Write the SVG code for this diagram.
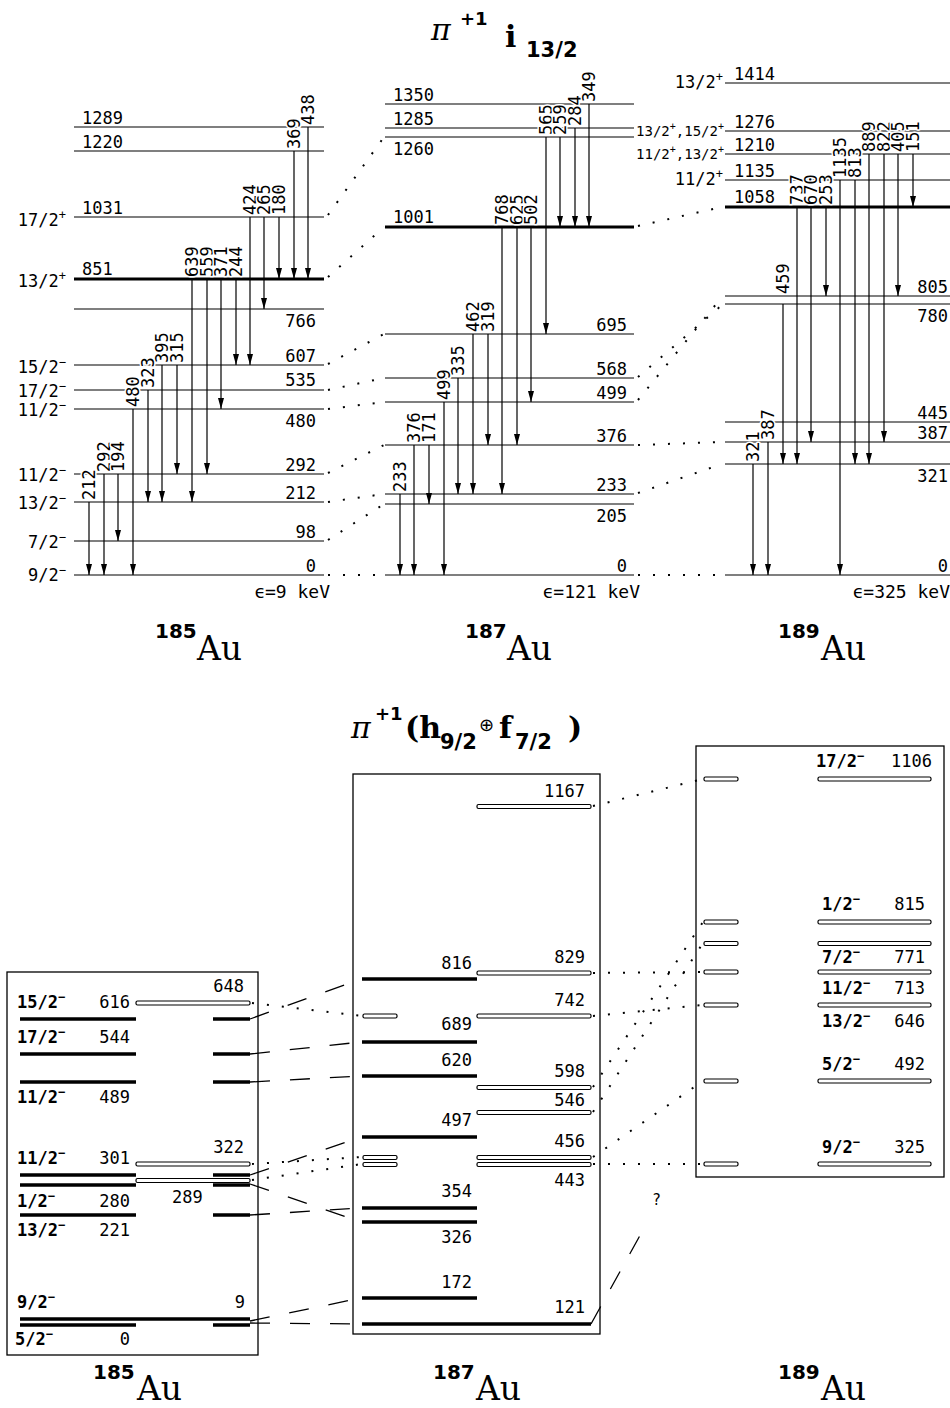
<svg xmlns="http://www.w3.org/2000/svg" width="950" height="1408" viewBox="0 0 950 1408">
<defs>
<marker id="ah" viewBox="0 0 11 6" refX="11" refY="3" markerWidth="11" markerHeight="6" markerUnits="userSpaceOnUse" orient="auto"><path d="M0,0 L11,3 L0,6 z" fill="#000"/></marker>
<style>
text{font-family:"DejaVu Sans Mono",monospace;font-size:17px;fill:#000}
.lv{stroke:#000;stroke-width:1.2}
.tk{stroke:#000;stroke-width:3}
.bk{stroke:#000;stroke-width:3.5}
.tr{stroke:#000;stroke-width:1.2;marker-end:url(#ah)}
.tl{paint-order:stroke;stroke:#fff;stroke-width:3px;stroke-linejoin:round}
.dot{stroke:#000;stroke-width:2;stroke-dasharray:2 13;fill:none}
.dash{stroke:#000;stroke-width:1.3;stroke-dasharray:20 20;fill:none}
.bar{fill:#fff;stroke:#000;stroke-width:1.2}
.box{fill:none;stroke:#000;stroke-width:1.3}
.e{text-anchor:end}
text.sm{font-size:14px}
.b{font-weight:bold}
text.eps{font-size:18px}
text.iso{font-family:"DejaVu Sans",sans-serif;font-weight:bold;font-size:20px}
text.au{font-family:"DejaVu Serif",serif;font-size:33px}
text.pi{font-family:"DejaVu Serif",serif;font-style:italic;font-size:30px}
text.sup1{font-family:"DejaVu Sans",sans-serif;font-weight:bold;font-size:18px}
text.big{font-family:"DejaVu Serif",serif;font-weight:bold;font-size:30px}
text.sub{font-family:"DejaVu Sans",sans-serif;font-weight:bold;font-size:21px}
text.op{font-family:"DejaVu Sans",sans-serif;font-size:18px}
</style>
</defs>

<!-- titles -->
<g id="title-top">
<text class="pi" x="431" y="40">π</text>
<text class="sup1" x="460" y="25">+1</text>
<text class="big" x="505" y="47">i</text>
<text class="sub" x="526" y="57">13/2</text>
</g>
<g id="title-bottom">
<text class="pi" x="351" y="738">π</text>
<text class="sup1" x="375" y="720">+1</text>
<text class="big" x="405" y="738">(h</text>
<text class="sub" x="440" y="749">9/2</text>
<text class="op" x="479" y="731">⊕</text>
<text class="big" x="499" y="738">f</text>
<text class="sub" x="515" y="749">7/2</text>
<text class="big" x="568" y="738">)</text>
</g>

<!-- isotope labels -->
<g id="iso-top-185"><text class="iso" x="155" y="638">185</text><text class="au" x="197" y="660">Au</text></g>
<g id="iso-top-187"><text class="iso" x="465" y="638">187</text><text class="au" x="507" y="660">Au</text></g>
<g id="iso-top-189"><text class="iso" x="778" y="638">189</text><text class="au" x="821" y="660">Au</text></g>
<g id="iso-bot-185"><text class="iso" x="93" y="1379">185</text><text class="au" x="137" y="1400">Au</text></g>
<g id="iso-bot-187"><text class="iso" x="433" y="1379">187</text><text class="au" x="476" y="1400">Au</text></g>
<g id="iso-bot-189"><text class="iso" x="778" y="1379">189</text><text class="au" x="821" y="1400">Au</text></g>

<!-- ===== TOP: 185Au levels ===== -->
<g id="t185-1289"><line class="lv" x1="74" y1="127" x2="324" y2="127"/><text x="82" y="124">1289</text></g>
<g id="t185-1220"><line class="lv" x1="74" y1="151" x2="324" y2="151"/><text x="82" y="148">1220</text></g>
<g id="t185-1031"><line class="lv" x1="74" y1="217" x2="324" y2="217"/><text x="82" y="214">1031</text><text class="e" x="66" y="226">17/2<tspan font-size="12" dy="-7">+</tspan></text></g>
<g id="t185-851"><line class="tk" x1="74" y1="279" x2="324" y2="279"/><text x="82" y="275">851</text><text class="e" x="66" y="287">13/2<tspan font-size="12" dy="-7">+</tspan></text></g>
<g id="t185-766"><line class="lv" x1="74" y1="309" x2="324" y2="309"/><text class="e" x="316" y="327">766</text></g>
<g id="t185-607"><line class="lv" x1="74" y1="365" x2="324" y2="365"/><text class="e" x="316" y="362">607</text><text class="e" x="66" y="373">15/2<tspan font-size="12" dy="-7">−</tspan></text></g>
<g id="t185-535"><line class="lv" x1="74" y1="390" x2="324" y2="390"/><text class="e" x="316" y="386">535</text><text class="e" x="66" y="397">17/2<tspan font-size="12" dy="-7">−</tspan></text></g>
<g id="t185-480"><line class="lv" x1="74" y1="409" x2="324" y2="409"/><text class="e" x="316" y="427">480</text><text class="e" x="66" y="416">11/2<tspan font-size="12" dy="-7">−</tspan></text></g>
<g id="t185-292"><line class="lv" x1="74" y1="474" x2="324" y2="474"/><text class="e" x="316" y="471">292</text><text class="e" x="66" y="481">11/2<tspan font-size="12" dy="-7">−</tspan></text></g>
<g id="t185-212"><line class="lv" x1="74" y1="502" x2="324" y2="502"/><text class="e" x="316" y="499">212</text><text class="e" x="66" y="509">13/2<tspan font-size="12" dy="-7">−</tspan></text></g>
<g id="t185-98"><line class="lv" x1="74" y1="541" x2="324" y2="541"/><text class="e" x="316" y="538">98</text><text class="e" x="66" y="548">7/2<tspan font-size="12" dy="-7">−</tspan></text></g>
<g id="t185-0"><line class="lv" x1="74" y1="575" x2="324" y2="575"/><text class="e" x="316" y="572">0</text><text class="e" x="66" y="581">9/2<tspan font-size="12" dy="-7">−</tspan></text><text class="e eps" x="330" y="598">ϵ=9 keV</text></g>

<!-- ===== TOP: 187Au levels ===== -->
<g id="t187-1350"><line class="lv" x1="385" y1="104" x2="634" y2="104"/><text x="393" y="101">1350</text></g>
<g id="t187-1285"><line class="lv" x1="385" y1="128" x2="634" y2="128"/><text x="393" y="125">1285</text></g>
<g id="t187-1260"><line class="lv" x1="385" y1="137" x2="634" y2="137"/><text x="393" y="155">1260</text></g>
<g id="t187-1001"><line class="tk" x1="385" y1="227" x2="634" y2="227"/><text x="393" y="223">1001</text></g>
<g id="t187-695"><line class="lv" x1="385" y1="334" x2="634" y2="334"/><text class="e" x="627" y="331">695</text></g>
<g id="t187-568"><line class="lv" x1="385" y1="378" x2="634" y2="378"/><text class="e" x="627" y="375">568</text></g>
<g id="t187-499"><line class="lv" x1="385" y1="402" x2="634" y2="402"/><text class="e" x="627" y="399">499</text></g>
<g id="t187-376"><line class="lv" x1="385" y1="445" x2="634" y2="445"/><text class="e" x="627" y="442">376</text></g>
<g id="t187-233"><line class="lv" x1="385" y1="494" x2="634" y2="494"/><text class="e" x="627" y="491">233</text></g>
<g id="t187-205"><line class="lv" x1="385" y1="504" x2="634" y2="504"/><text class="e" x="627" y="522">205</text></g>
<g id="t187-0"><line class="lv" x1="385" y1="575" x2="634" y2="575"/><text class="e" x="627" y="572">0</text><text class="e eps" x="640" y="598">ϵ=121 keV</text></g>

<!-- ===== TOP: 189Au levels ===== -->
<g id="t189-1414"><line class="lv" x1="725" y1="83" x2="950" y2="83"/><text x="734" y="80">1414</text><text class="e" x="723" y="88">13/2<tspan font-size="12" dy="-7">+</tspan></text></g>
<g id="t189-1276"><line class="lv" x1="725" y1="131" x2="950" y2="131"/><text x="734" y="128">1276</text><text class="e sm" x="724" y="136">13/2<tspan font-size="10" dy="-6">+</tspan><tspan dy="6">,15/2</tspan><tspan font-size="10" dy="-6">+</tspan></text></g>
<g id="t189-1210"><line class="lv" x1="725" y1="154" x2="950" y2="154"/><text x="734" y="151">1210</text><text class="e sm" x="724" y="159">11/2<tspan font-size="10" dy="-6">+</tspan><tspan dy="6">,13/2</tspan><tspan font-size="10" dy="-6">+</tspan></text></g>
<g id="t189-1135"><line class="lv" x1="725" y1="180" x2="950" y2="180"/><text x="734" y="177">1135</text><text class="e" x="723" y="185">11/2<tspan font-size="12" dy="-7">+</tspan></text></g>
<g id="t189-1058"><line class="tk" x1="725" y1="207" x2="950" y2="207"/><text x="734" y="203">1058</text></g>
<g id="t189-805"><line class="lv" x1="725" y1="296" x2="950" y2="296"/><text class="e" x="948" y="293">805</text></g>
<g id="t189-780"><line class="lv" x1="725" y1="304" x2="950" y2="304"/><text class="e" x="948" y="322">780</text></g>
<g id="t189-445"><line class="lv" x1="725" y1="422" x2="950" y2="422"/><text class="e" x="948" y="419">445</text></g>
<g id="t189-387"><line class="lv" x1="725" y1="442" x2="950" y2="442"/><text class="e" x="948" y="439">387</text></g>
<g id="t189-321"><line class="lv" x1="725" y1="464" x2="950" y2="464"/><text class="e" x="948" y="482">321</text></g>
<g id="t189-0"><line class="lv" x1="725" y1="575" x2="950" y2="575"/><text class="e" x="948" y="572">0</text><text class="e eps" x="950" y="598">ϵ=325 keV</text></g>

<!-- ===== TOP transitions (connectors) ===== -->
<g id="transitions-top">
<line class="tr" x1="192" y1="279" x2="192" y2="502"/><text class="tl" transform="translate(198,277) rotate(-90)">639</text>
<line class="tr" x1="207" y1="279" x2="207" y2="474"/><text class="tl" transform="translate(213,277) rotate(-90)">559</text>
<line class="tr" x1="221" y1="279" x2="221" y2="409"/><text class="tl" transform="translate(227,277) rotate(-90)">371</text>
<line class="tr" x1="236" y1="279" x2="236" y2="365"/><text class="tl" transform="translate(242,277) rotate(-90)">244</text>
<line class="tr" x1="250" y1="217" x2="250" y2="365"/><text class="tl" transform="translate(256,215) rotate(-90)">424</text>
<line class="tr" x1="264" y1="217" x2="264" y2="309"/><text class="tl" transform="translate(270,215) rotate(-90)">265</text>
<line class="tr" x1="279" y1="217" x2="279" y2="279"/><text class="tl" transform="translate(285,215) rotate(-90)">180</text>
<line class="tr" x1="294" y1="151" x2="294" y2="279"/><text class="tl" transform="translate(300,149) rotate(-90)">369</text>
<line class="tr" x1="308" y1="127" x2="308" y2="279"/><text class="tl" transform="translate(314,125) rotate(-90)">438</text>
<line class="tr" x1="162" y1="365" x2="162" y2="502"/><text class="tl" transform="translate(168,363) rotate(-90)">395</text>
<line class="tr" x1="177" y1="365" x2="177" y2="474"/><text class="tl" transform="translate(183,363) rotate(-90)">315</text>
<line class="tr" x1="148" y1="390" x2="148" y2="502"/><text class="tl" transform="translate(154,388) rotate(-90)">323</text>
<line class="tr" x1="133" y1="409" x2="133" y2="575"/><text class="tl" transform="translate(139,407) rotate(-90)">480</text>
<line class="tr" x1="89" y1="502" x2="89" y2="575"/><text class="tl" transform="translate(95,500) rotate(-90)">212</text>
<line class="tr" x1="104" y1="474" x2="104" y2="575"/><text class="tl" transform="translate(110,472) rotate(-90)">292</text>
<line class="tr" x1="118" y1="474" x2="118" y2="541"/><text class="tl" transform="translate(124,472) rotate(-90)">194</text>
<line class="tr" x1="502" y1="227" x2="502" y2="494"/><text class="tl" transform="translate(508,225) rotate(-90)">768</text>
<line class="tr" x1="517" y1="227" x2="517" y2="445"/><text class="tl" transform="translate(523,225) rotate(-90)">625</text>
<line class="tr" x1="531" y1="227" x2="531" y2="402"/><text class="tl" transform="translate(537,225) rotate(-90)">502</text>
<line class="tr" x1="546" y1="137" x2="546" y2="334"/><text class="tl" transform="translate(552,135) rotate(-90)">565</text>
<line class="tr" x1="560" y1="137" x2="560" y2="227"/><text class="tl" transform="translate(566,135) rotate(-90)">259</text>
<line class="tr" x1="575" y1="128" x2="575" y2="227"/><text class="tl" transform="translate(581,126) rotate(-90)">284</text>
<line class="tr" x1="589" y1="104" x2="589" y2="227"/><text class="tl" transform="translate(595,102) rotate(-90)">349</text>
<line class="tr" x1="473" y1="334" x2="473" y2="494"/><text class="tl" transform="translate(479,332) rotate(-90)">462</text>
<line class="tr" x1="488" y1="334" x2="488" y2="445"/><text class="tl" transform="translate(494,332) rotate(-90)">319</text>
<line class="tr" x1="458" y1="378" x2="458" y2="494"/><text class="tl" transform="translate(464,376) rotate(-90)">335</text>
<line class="tr" x1="444" y1="402" x2="444" y2="575"/><text class="tl" transform="translate(450,400) rotate(-90)">499</text>
<line class="tr" x1="414" y1="445" x2="414" y2="575"/><text class="tl" transform="translate(420,443) rotate(-90)">376</text>
<line class="tr" x1="429" y1="445" x2="429" y2="504"/><text class="tl" transform="translate(435,443) rotate(-90)">171</text>
<line class="tr" x1="400" y1="494" x2="400" y2="575"/><text class="tl" transform="translate(406,492) rotate(-90)">233</text>
<line class="tr" x1="783" y1="304" x2="783" y2="464"/><text class="tl" transform="translate(789,294) rotate(-90)">459</text>
<line class="tr" x1="797" y1="207" x2="797" y2="464"/><text class="tl" transform="translate(803,205) rotate(-90)">737</text>
<line class="tr" x1="811" y1="207" x2="811" y2="442"/><text class="tl" transform="translate(817,205) rotate(-90)">670</text>
<line class="tr" x1="826" y1="207" x2="826" y2="296"/><text class="tl" transform="translate(832,205) rotate(-90)">253</text>
<line class="tr" x1="840" y1="180" x2="840" y2="575"/><text class="tl" transform="translate(846,178) rotate(-90)">1135</text>
<line class="tr" x1="855" y1="180" x2="855" y2="464"/><text class="tl" transform="translate(861,178) rotate(-90)">813</text>
<line class="tr" x1="869" y1="154" x2="869" y2="464"/><text class="tl" transform="translate(875,152) rotate(-90)">889</text>
<line class="tr" x1="884" y1="154" x2="884" y2="442"/><text class="tl" transform="translate(890,152) rotate(-90)">822</text>
<line class="tr" x1="898" y1="154" x2="898" y2="296"/><text class="tl" transform="translate(904,152) rotate(-90)">405</text>
<line class="tr" x1="913" y1="154" x2="913" y2="207"/><text class="tl" transform="translate(919,152) rotate(-90)">151</text>
<line class="tr" x1="768" y1="442" x2="768" y2="575"/><text class="tl" transform="translate(774,440) rotate(-90)">387</text>
<line class="tr" x1="753" y1="464" x2="753" y2="575"/><text class="tl" transform="translate(759,462) rotate(-90)">321</text>
</g>

<!-- ===== TOP dotted correlations ===== -->
<g id="links-top">
<line class="dot" x1="328" y1="215" x2="384" y2="137"/>
<line class="dot" x1="328" y1="277" x2="384" y2="227"/>
<line class="dot" x1="328" y1="364" x2="384" y2="334"/>
<line class="dot" x1="328" y1="390" x2="384" y2="378"/>
<line class="dot" x1="328" y1="409" x2="384" y2="402"/>
<line class="dot" x1="328" y1="473" x2="384" y2="445"/>
<line class="dot" x1="328" y1="502" x2="384" y2="494"/>
<line class="dot" x1="328" y1="540" x2="384" y2="504"/>
<line class="dot" x1="328" y1="575" x2="384" y2="575"/>
<line class="dot" x1="638" y1="226" x2="722" y2="207"/>
<line class="dot" x1="638" y1="377" x2="722" y2="305"/>
<line class="dot" x1="638" y1="400" x2="722" y2="297"/>
<line class="dot" x1="638" y1="445" x2="722" y2="442"/>
<line class="dot" x1="638" y1="493" x2="722" y2="464"/>
<line class="dot" x1="638" y1="575" x2="722" y2="575"/>
</g>

<!-- ===== BOTTOM: 185Au box ===== -->
<g id="b185">
<rect class="box" x="7" y="972" width="251" height="383"/>
<line class="bk" x1="20" y1="1019" x2="136" y2="1019"/><line class="bk" x1="213" y1="1019" x2="250" y2="1019"/>
<line class="bk" x1="20" y1="1054" x2="136" y2="1054"/><line class="bk" x1="213" y1="1054" x2="250" y2="1054"/>
<line class="bk" x1="20" y1="1082" x2="136" y2="1082"/><line class="bk" x1="213" y1="1082" x2="250" y2="1082"/>
<line class="bk" x1="20" y1="1175" x2="136" y2="1175"/><line class="bk" x1="213" y1="1175" x2="250" y2="1175"/>
<line class="bk" x1="20" y1="1185" x2="136" y2="1185"/><line class="bk" x1="213" y1="1185" x2="250" y2="1185"/>
<line class="bk" x1="20" y1="1215" x2="136" y2="1215"/><line class="bk" x1="213" y1="1215" x2="250" y2="1215"/>
<line class="bk" x1="20" y1="1319" x2="250" y2="1319"/>
<line class="bk" x1="20" y1="1325" x2="136" y2="1325"/><line class="bk" x1="213" y1="1325" x2="250" y2="1325"/>
<rect class="bar" x="136" y="1001" width="114" height="4" rx="1.5"/>
<rect class="bar" x="136" y="1162" width="114" height="4" rx="1.5"/>
<rect class="bar" x="136" y="1178.5" width="114" height="4" rx="1.5"/>
<text class="b" x="17" y="1008">15/2<tspan font-size="12" dy="-7">−</tspan></text><text class="e" x="130" y="1008">616</text>
<text class="b" x="17" y="1043">17/2<tspan font-size="12" dy="-7">−</tspan></text><text class="e" x="130" y="1043">544</text>
<text class="b" x="17" y="1103">11/2<tspan font-size="12" dy="-7">−</tspan></text><text class="e" x="130" y="1103">489</text>
<text class="b" x="17" y="1164">11/2<tspan font-size="12" dy="-7">−</tspan></text><text class="e" x="130" y="1164">301</text>
<text class="b" x="17" y="1207">1/2<tspan font-size="12" dy="-7">−</tspan></text><text class="e" x="130" y="1207">280</text>
<text class="b" x="17" y="1236">13/2<tspan font-size="12" dy="-7">−</tspan></text><text class="e" x="130" y="1236">221</text>
<text class="b" x="17" y="1308">9/2<tspan font-size="12" dy="-7">−</tspan></text><text class="e" x="245" y="1308">9</text>
<text class="b" x="15" y="1345">5/2<tspan font-size="12" dy="-7">−</tspan></text><text class="e" x="130" y="1345">0</text>
<text class="e" x="244" y="992">648</text>
<text class="e" x="244" y="1153">322</text>
<text x="172" y="1203">289</text>
</g>

<!-- ===== BOTTOM: 187Au box ===== -->
<g id="b187">
<rect class="box" x="353" y="774" width="247" height="560"/>
<line class="bk" x1="362" y1="979" x2="477" y2="979"/>
<line class="bk" x1="362" y1="1042" x2="477" y2="1042"/>
<line class="bk" x1="362" y1="1076" x2="477" y2="1076"/>
<line class="bk" x1="362" y1="1137" x2="477" y2="1137"/>
<line class="bk" x1="362" y1="1208" x2="477" y2="1208"/>
<line class="bk" x1="362" y1="1222" x2="477" y2="1222"/>
<line class="bk" x1="362" y1="1298" x2="477" y2="1298"/>
<line class="bk" x1="362" y1="1324" x2="591" y2="1324"/>
<rect class="bar" x="477" y="804.5" width="114" height="4" rx="1.5"/>
<rect class="bar" x="477" y="971" width="114" height="4" rx="1.5"/>
<rect class="bar" x="477" y="1014" width="114" height="4" rx="1.5"/>
<rect class="bar" x="477" y="1085.5" width="114" height="4" rx="1.5"/>
<rect class="bar" x="477" y="1110.5" width="114" height="4" rx="1.5"/>
<rect class="bar" x="477" y="1155.5" width="114" height="4" rx="1.5"/>
<rect class="bar" x="477" y="1162.5" width="114" height="4" rx="1.5"/>
<rect class="bar" x="363" y="1014" width="34" height="4" rx="1.5"/>
<rect class="bar" x="363" y="1155.5" width="34" height="4" rx="1.5"/>
<rect class="bar" x="363" y="1162.5" width="34" height="4" rx="1.5"/>
<text class="e" x="585" y="797">1167</text>
<text class="e" x="472" y="969">816</text>
<text class="e" x="585" y="963">829</text>
<text class="e" x="585" y="1006">742</text>
<text class="e" x="472" y="1030">689</text>
<text class="e" x="472" y="1066">620</text>
<text class="e" x="585" y="1077">598</text>
<text class="e" x="585" y="1106">546</text>
<text class="e" x="472" y="1126">497</text>
<text class="e" x="585" y="1147">456</text>
<text class="e" x="585" y="1186">443</text>
<text class="e" x="472" y="1197">354</text>
<text class="e" x="472" y="1243">326</text>
<text class="e" x="472" y="1288">172</text>
<text class="e" x="585" y="1313">121</text>
</g>

<!-- ===== BOTTOM: 189Au box ===== -->
<g id="b189">
<rect class="box" x="696" y="746" width="248" height="431"/>
<rect class="bar" x="704" y="777" width="34" height="4" rx="1.5"/><rect class="bar" x="818" y="777" width="113" height="4" rx="1.5"/>
<rect class="bar" x="704" y="920" width="34" height="4" rx="1.5"/><rect class="bar" x="818" y="920" width="113" height="4" rx="1.5"/>
<rect class="bar" x="704" y="941.5" width="34" height="4" rx="1.5"/><rect class="bar" x="818" y="941.5" width="113" height="4" rx="1.5"/>
<rect class="bar" x="704" y="970" width="34" height="4" rx="1.5"/><rect class="bar" x="818" y="970" width="113" height="4" rx="1.5"/>
<rect class="bar" x="704" y="1003" width="34" height="4" rx="1.5"/><rect class="bar" x="818" y="1003" width="113" height="4" rx="1.5"/>
<rect class="bar" x="704" y="1079" width="34" height="4" rx="1.5"/><rect class="bar" x="818" y="1079" width="113" height="4" rx="1.5"/>
<rect class="bar" x="704" y="1162" width="34" height="4" rx="1.5"/><rect class="bar" x="818" y="1162" width="113" height="4" rx="1.5"/>
<text class="b" x="816" y="767">17/2<tspan font-size="12" dy="-7">−</tspan></text><text class="e" x="932" y="767">1106</text>
<text class="b" x="822" y="910">1/2<tspan font-size="12" dy="-7">−</tspan></text><text class="e" x="925" y="910">815</text>
<text class="b" x="822" y="963">7/2<tspan font-size="12" dy="-7">−</tspan></text><text class="e" x="925" y="963">771</text>
<text class="b" x="822" y="994">11/2<tspan font-size="12" dy="-7">−</tspan></text><text class="e" x="925" y="994">713</text>
<text class="b" x="822" y="1027">13/2<tspan font-size="12" dy="-7">−</tspan></text><text class="e" x="925" y="1027">646</text>
<text class="b" x="822" y="1070">5/2<tspan font-size="12" dy="-7">−</tspan></text><text class="e" x="925" y="1070">492</text>
<text class="b" x="822" y="1153">9/2<tspan font-size="12" dy="-7">−</tspan></text><text class="e" x="925" y="1153">325</text>
</g>

<!-- ===== BOTTOM links ===== -->
<g id="links-bottom">
<line class="dash" x1="250" y1="1019" x2="361" y2="979"/>
<line class="dash" x1="250" y1="1054" x2="361" y2="1042"/>
<line class="dash" x1="250" y1="1082" x2="361" y2="1076"/>
<line class="dash" x1="250" y1="1175" x2="361" y2="1137"/>
<line class="dash" x1="250" y1="1184" x2="361" y2="1222"/>
<line class="dash" x1="250" y1="1215" x2="361" y2="1208"/>
<line class="dash" x1="250" y1="1321" x2="361" y2="1298"/>
<line class="dash" x1="250" y1="1323" x2="361" y2="1324"/>
<line class="dash" x1="591" y1="1324" x2="643" y2="1230"/>
<line class="dot" x1="252" y1="1003" x2="362" y2="1016"/>
<line class="dot" x1="252" y1="1164" x2="362" y2="1157"/>
<line class="dot" x1="252" y1="1180" x2="362" y2="1164"/>
<line class="dot" x1="593" y1="806" x2="703" y2="779"/>
<line class="dot" x1="593" y1="973" x2="703" y2="972"/>
<line class="dot" x1="593" y1="1016" x2="703" y2="1005"/>
<line class="dot" x1="593" y1="1087" x2="703" y2="922"/>
<line class="dot" x1="593" y1="1112" x2="703" y2="943"/>
<line class="dot" x1="593" y1="1157" x2="703" y2="1081"/>
<line class="dot" x1="593" y1="1164" x2="703" y2="1164"/>
<text x="652" y="1205" style="font-size:15px">?</text>
</g>
</svg>
